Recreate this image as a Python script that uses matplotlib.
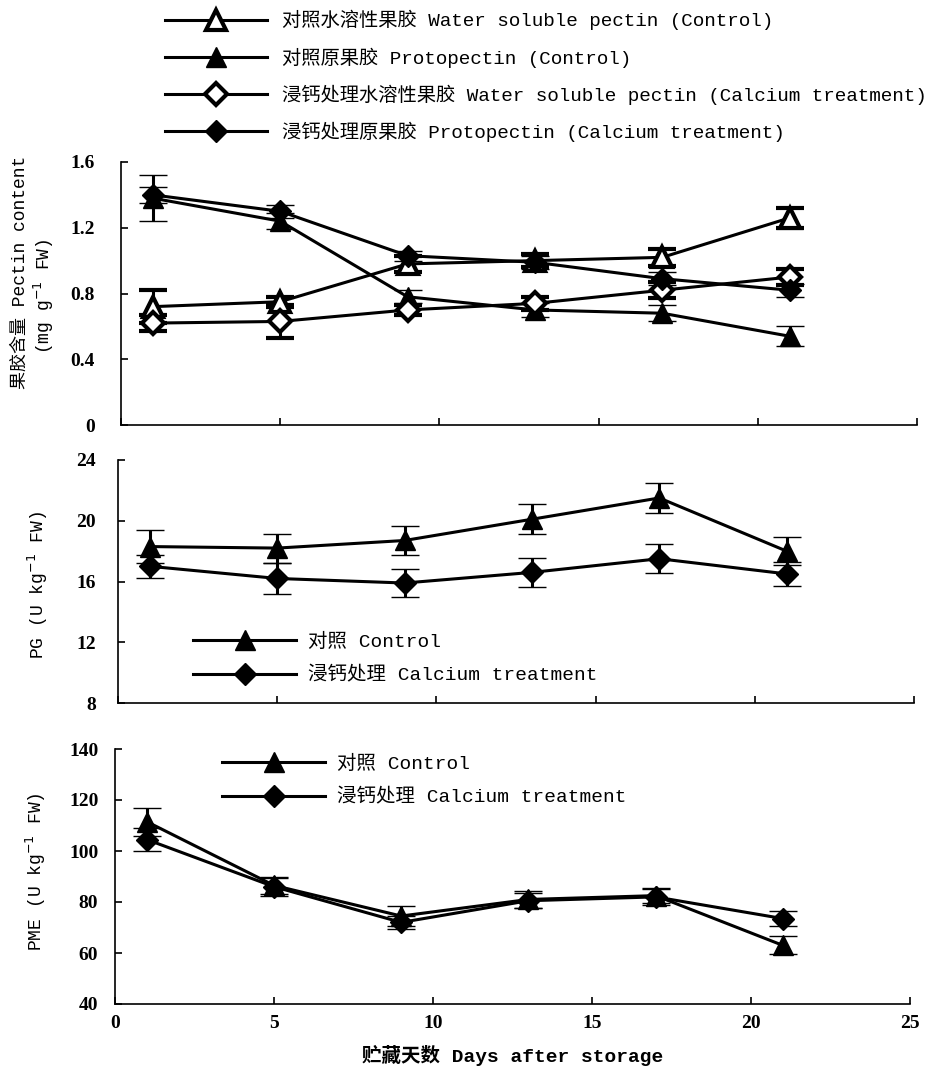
import matplotlib
matplotlib.use("Agg")
import matplotlib.pyplot as plt
from matplotlib.lines import Line2D

plt.rcParams['font.family'] = ['Liberation Mono', 'Noto Sans CJK SC', 'DejaVu Sans']
plt.rcParams['mathtext.fontset'] = 'dejavusans'

# ---------------- data ----------------
days = [1, 5, 9, 13, 17, 21]

wsp_ctrl = [0.72, 0.75, 0.98, 1.00, 1.02, 1.26]
wsp_ctrl_err = [0.10, 0.03, 0.05, 0.04, 0.05, 0.06]
pp_ctrl = [1.38, 1.24, 0.78, 0.70, 0.68, 0.54]
pp_ctrl_err = [0.14, 0.05, 0.04, 0.04, 0.05, 0.06]
wsp_ca = [0.62, 0.63, 0.70, 0.74, 0.82, 0.90]
wsp_ca_err = [0.05, 0.10, 0.03, 0.04, 0.05, 0.05]
pp_ca = [1.40, 1.30, 1.03, 0.99, 0.89, 0.82]
pp_ca_err = [0.05, 0.04, 0.03, 0.04, 0.04, 0.04]

pg_ctrl = [18.3, 18.2, 18.7, 20.1, 21.5, 18.0]
pg_ctrl_err = [1.1, 0.95, 0.95, 1.0, 1.0, 0.9]
pg_ca = [17.0, 16.2, 15.9, 16.6, 17.5, 16.5]
pg_ca_err = [0.75, 1.0, 0.95, 0.95, 0.95, 0.8]

pme_ctrl = [111.5, 86.5, 74.5, 81.0, 82.5, 63.0]
pme_ctrl_err = [5.5, 3.5, 4.0, 3.5, 3.0, 3.5]
pme_ca = [104.5, 86.0, 72.0, 80.5, 82.0, 73.5]
pme_ca_err = [4.5, 3.5, 2.5, 3.0, 3.0, 3.0]

pectin_ticks = [0, 0.4, 0.8, 1.2, 1.6]
pectin_ticklabels = ['0', '0.4', '0.8', '1.2', '1.6']
pg_ticks = [8, 12, 16, 20, 24]
pg_ticklabels = ['8', '12', '16', '20', '24']
pme_ticks = [40, 60, 80, 100, 120, 140]
pme_ticklabels = ['40', '60', '80', '100', '120', '140']
x_ticks = [0, 5, 10, 15, 20, 25]
x_ticklabels = ['0', '5', '10', '15', '20', '25']

top_labels = ['对照水溶性果胶 Water soluble pectin (Control)',
              '对照原果胶 Protopectin (Control)',
              '浸钙处理水溶性果胶 Water soluble pectin (Calcium treatment)',
              '浸钙处理原果胶 Protopectin (Calcium treatment)']
pair_labels = ['对照 Control', '浸钙处理 Calcium treatment']

# ---------------- figure ----------------
W, H = 936, 1073
fig = plt.figure(figsize=(W / 100, H / 100), dpi=100)


def px_axes(left, right, top, bottom):
    return fig.add_axes([left / W, 1 - bottom / H, (right - left) / W, (bottom - top) / H])


ax1 = px_axes(121, 917, 162, 425)
ax2 = px_axes(118, 914, 460, 703)
ax3 = px_axes(115, 910, 749, 1004)

LW = 2.2
MS_T = 14
MS_D = 11
CAP = 10
OPEN_MEW = 3.0
tick_font = dict(family='Liberation Serif', size=14, weight='bold')


def series(ax, y, e, marker, filled=True):
    ms = MS_T if marker == '^' else MS_D
    ax.errorbar(days, y, yerr=e, color='black', lw=LW, marker=marker, ms=ms,
                mfc='black' if filled else 'white', mec='black',
                mew=OPEN_MEW if not filled else 1,
                capsize=CAP, capthick=LW, elinewidth=LW, clip_on=False, zorder=3)


series(ax1, wsp_ctrl, wsp_ctrl_err, '^', filled=False)
series(ax1, pp_ctrl, pp_ctrl_err, '^')
series(ax1, wsp_ca, wsp_ca_err, 'D', filled=False)
series(ax1, pp_ca, pp_ca_err, 'D')

series(ax2, pg_ctrl, pg_ctrl_err, '^')
series(ax2, pg_ca, pg_ca_err, 'D')

series(ax3, pme_ctrl, pme_ctrl_err, '^')
series(ax3, pme_ca, pme_ca_err, 'D')

for ax, yt, ytl, ylim, pad in [(ax1, pectin_ticks, pectin_ticklabels, (0, 1.6), 19),
                               (ax2, pg_ticks, pg_ticklabels, (8, 24), 16),
                               (ax3, pme_ticks, pme_ticklabels, (40, 140), 12)]:
    ax.set_xlim(0, 25)
    ax.set_ylim(*ylim)
    ax.set_yticks(yt)
    ax.set_yticklabels(ytl, **tick_font)
    ax.set_xticks(x_ticks)
    for s in ['top', 'right']:
        ax.spines[s].set_visible(False)
    for s in ['left', 'bottom']:
        ax.spines[s].set_linewidth(1.2)
    ax.tick_params(direction='in', length=5, width=1.2)
    ax.tick_params(axis='y', pad=pad)
    ax.tick_params(axis='x', pad=8)

ax1.set_xticklabels([])
ax2.set_xticklabels([])
ax3.set_xticklabels(x_ticklabels, **tick_font)


# y labels placed in figure pixels
def ftext(x, y, s, **kw):
    fig.text(x / W, 1 - y / H, s, ha='center', va='center', **kw)


ftext(20, 272, '果胶含量 Pectin content', rotation=90, fontsize=13)
ftext(44, 296, '(mg g$^{-1}$ FW)', rotation=90, fontsize=13)
ftext(38, 585, 'PG (U kg$^{-1}$ FW)', rotation=90, fontsize=13)
ftext(36, 872, 'PME (U kg$^{-1}$ FW)', rotation=90, fontsize=13)
ax3.set_xlabel('贮藏天数 Days after storage', fontsize=14, labelpad=9, weight='bold')

# ---------------- legends ----------------
top_handles = [
    Line2D([], [], color='black', lw=LW, marker='^', ms=MS_T, mfc='white', mec='black', mew=OPEN_MEW),
    Line2D([], [], color='black', lw=LW, marker='^', ms=MS_T, mfc='black', mec='black'),
    Line2D([], [], color='black', lw=LW, marker='D', ms=MS_D, mfc='white', mec='black', mew=OPEN_MEW),
    Line2D([], [], color='black', lw=LW, marker='D', ms=MS_D, mfc='black', mec='black'),
]
fig.legend(top_handles, top_labels, loc='upper left', bbox_to_anchor=(165 / W, 1 - 10 / H),
           frameon=False, fontsize=13.9, handlelength=5.3, handletextpad=0.75,
           labelspacing=0.88, borderpad=0, borderaxespad=0)

pair_handles = [
    Line2D([], [], color='black', lw=LW, marker='^', ms=MS_T, mfc='black', mec='black'),
    Line2D([], [], color='black', lw=LW, marker='D', ms=MS_D, mfc='black', mec='black'),
]
fig.legend(pair_handles, pair_labels, loc='upper left', bbox_to_anchor=(193 / W, 1 - 633 / H),
           frameon=False, fontsize=14, handlelength=5.3, handletextpad=0.6,
           labelspacing=0.78, borderpad=0, borderaxespad=0)
fig.legend(pair_handles, pair_labels, loc='upper left', bbox_to_anchor=(222 / W, 1 - 755 / H),
           frameon=False, fontsize=14, handlelength=5.3, handletextpad=0.6,
           labelspacing=0.78, borderpad=0, borderaxespad=0)

fig.savefig('out.png', dpi=100)
